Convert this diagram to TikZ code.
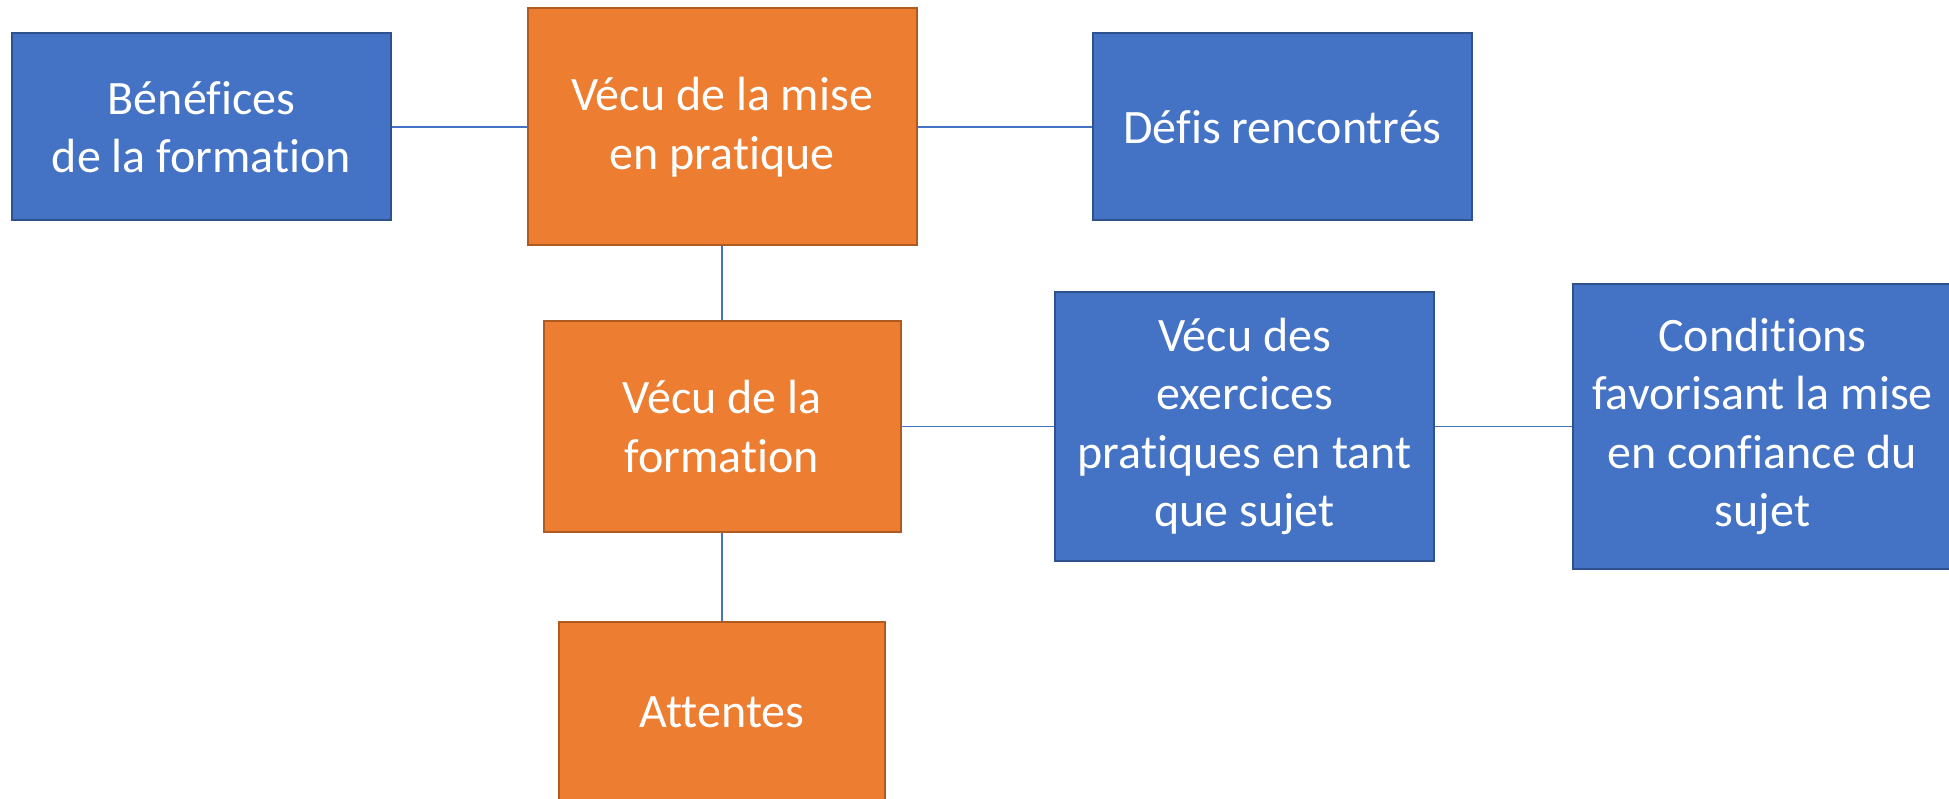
\documentclass[tikz,border=0pt]{standalone}
\usepackage{fontspec}
\setmainfont{Carlito}[Ligatures={NoCommon,NoContextual}]
\definecolor{bfill}{HTML}{4472C4}
\definecolor{bdraw}{HTML}{2F528F}
\definecolor{ofill}{HTML}{ED7D31}
\definecolor{odraw}{HTML}{AE5A21}
\definecolor{conn}{HTML}{4472C4}
\tikzset{
  box/.style={rectangle, inner sep=0pt, align=center, text=white,
    font=\fontsize{48}{58.5}\selectfont, line width=2pt},
  bluebox/.style={box, fill=bfill, draw=bdraw},
  orangebox/.style={box, fill=ofill, draw=odraw},
  link/.style={draw=conn, line width=1.3pt}
}
\begin{document}
\begin{tikzpicture}[x=1pt,y=-1pt]
\useasboundingbox (0,0) rectangle (1949,799);
\clip (0,0) rectangle (1949,799);
\node[bluebox, minimum width=379pt, minimum height=187pt] (ben) at (201.5,127) {Bénéfices\\de la formation};
\node[orangebox, minimum width=389pt, minimum height=237pt] (mise) at (722,127) {Vécu de la mise\\en pratique};
\node[bluebox, minimum width=379pt, minimum height=187pt] (defis) at (1282.5,127) {Défis rencontrés};
\node[orangebox, minimum width=357pt, minimum height=211pt] (form) at (722,426.5) {Vécu de la\\formation};
\node[bluebox, minimum width=379pt, minimum height=269pt] (exer) at (1244.5,426.5) {Vécu des\\exercices\\pratiques en tant\\que sujet};
\node[bluebox, minimum width=379pt, minimum height=284pt] (cond) at (1762.5,426.5) {Conditions\\favorisant la mise\\en confiance du\\sujet};
\node[orangebox, minimum width=326pt, minimum height=180pt] (att) at (722,712) {Attentes};
\draw[link] (ben.east) -- (mise.west);
\draw[link] (mise.east) -- (defis.west);
\draw[link] (mise.south) -- (form.north);
\draw[link] (form.east) -- (exer.west);
\draw[link] (exer.east) -- (cond.west);
\draw[link] (form.south) -- (att.north);
\end{tikzpicture}
\end{document}
